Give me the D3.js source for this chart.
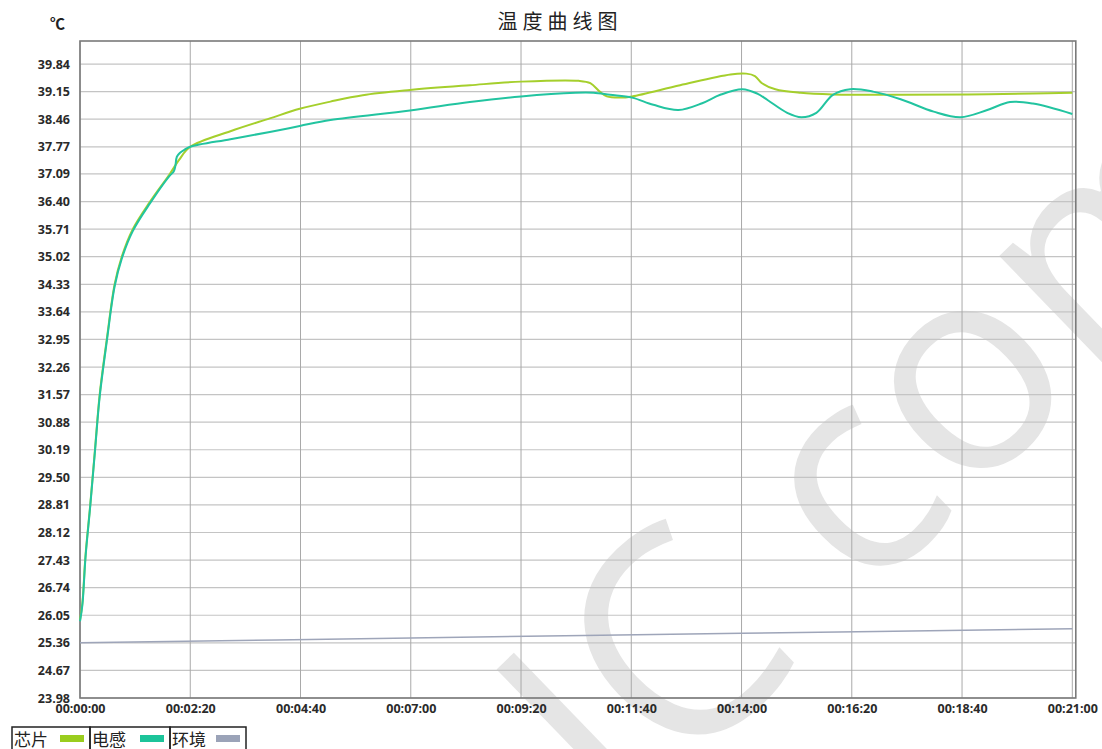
<!DOCTYPE html>
<html><head><meta charset="utf-8">
<script src="https://cdn.jsdelivr.net/npm/d3@7/dist/d3.min.js"></script>
<style>
html,body{margin:0;padding:0;background:#fff;}
svg{display:block;}
</style></head>
<body>
<svg id="chart" width="1102" height="749"></svg>
<script>
// ---- data ----
const yTickLabels = ["23.98","24.67","25.36","26.05","26.74","27.43","28.12","28.81","29.50","30.19","30.88","31.57","32.26","32.95","33.64","34.33","35.02","35.71","36.40","37.09","37.77","38.46","39.15","39.84"];
const xTickSeconds = [0,140,280,420,560,700,840,980,1120,1260];
const seriesNames = ["芯片","电感","环境"];
const seriesColors = ["#a5cf2c","#22c4a0","#9ea5b9"];
const legendColors = ["#9acd1e","#1cc49a","#9ba3b8"];

const chipT = [0,3,7,13,19,25,34,44,53,67,89,114,126,140,191,241,279,318,359,419,495,560,633,648,660,669,686,701,762,826,846,857,866,883,915,956,1042,1127,1210,1260];
const chipV = [25.93,26.35,27.55,28.81,30.19,31.57,32.95,34.33,35.02,35.71,36.40,37.09,37.45,37.77,38.16,38.48,38.72,38.90,39.06,39.19,39.31,39.40,39.42,39.36,39.15,39.03,39.00,39.03,39.31,39.58,39.60,39.54,39.36,39.21,39.12,39.08,39.07,39.08,39.10,39.12];

const inductT = [0,3,7,13,19,25,34,44,53,67,89,114,119,121,123,127,133,140,191,241,279,318,419,495,560,629,652,673,701,728,760,790,813,841,860,873,898,916,935,956,978,1007,1042,1084,1118,1152,1181,1210,1260];
const inductV = [25.90,26.30,27.50,28.78,30.15,31.52,32.90,34.28,34.97,35.66,36.36,37.05,37.15,37.28,37.52,37.62,37.70,37.77,37.96,38.14,38.29,38.44,38.68,38.89,39.03,39.12,39.12,39.07,39.00,38.82,38.69,38.86,39.07,39.21,39.10,38.94,38.62,38.51,38.62,39.07,39.21,39.15,38.96,38.65,38.51,38.69,38.89,38.85,38.59];

const ambientT = [0,420,840,1260];
const ambientV = [25.36,25.48,25.60,25.71];

// ---- layout ----
const svg = d3.select("#chart");
const L = 80, R = 1072.3, T = 41, B = 698;
const x = d3.scaleLinear().domain([0,1260]).range([L,R]);
const y = d3.scaleLinear().domain([23.98, 23.98 + (B-T)*0.6896/27.565]).range([B,T]);

function fmt(s){const h=Math.floor(s/3600),m=Math.floor(s%3600/60),ss=s%60;return [h,m,ss].map(v=>String(v).padStart(2,"0")).join(":");}

// watermark (behind)
const wm = svg.append("g").attr("opacity",0.55);
wm.append("text")
  .attr("transform","translate(620,838) rotate(-44)")
  .attr("font-family","Open Sans").attr("font-size",290).attr("font-weight",400)
  .attr("fill","#d0d0d0").text("IC com");

// grid
const yVals = yTickLabels.map(Number);
svg.append("g").selectAll("line").data(yVals).join("line")
  .attr("x1",L).attr("x2",R+3).attr("y1",d=>y(d)).attr("y2",d=>y(d))
  .attr("stroke","#c4c4c4").attr("stroke-width",1.2);
svg.append("g").selectAll("line").data(xTickSeconds).join("line")
  .attr("x1",d=>x(d)).attr("x2",d=>x(d)).attr("y1",T).attr("y2",B)
  .attr("stroke","#a9a9a9").attr("stroke-width",1);

// frame
svg.append("rect").attr("x",L).attr("y",T).attr("width",R+3.5-L).attr("height",B-T)
  .attr("fill","none").attr("stroke","#7a7a7a").attr("stroke-width",1.6);

// axes labels via d3 axes
const yAxis = d3.axisLeft(y).tickValues(yVals).tickFormat((d,i)=>yTickLabels[i]).tickSize(0).tickPadding(10);
const gy = svg.append("g").attr("transform",`translate(${L},0)`).call(yAxis);
gy.select(".domain").remove();
gy.selectAll("text").attr("font-family","Open Sans").attr("font-weight",700).attr("font-size",12.5).attr("fill","#2a2a2a");

const xAxis = d3.axisBottom(x).tickValues(xTickSeconds).tickFormat(fmt).tickSize(0).tickPadding(6);
const gx = svg.append("g").attr("transform",`translate(0,${B})`).call(xAxis);
gx.select(".domain").remove();
gx.selectAll("text").attr("font-family","Open Sans").attr("font-weight",700).attr("font-size",12.5).attr("fill","#2a2a2a");

// lines
const line = d3.line().x(d=>x(d[0])).y(d=>y(d[1])).curve(d3.curveCatmullRom.alpha(0.5));
const series = [
  d3.zip(chipT,chipV),
  d3.zip(inductT,inductV),
  d3.zip(ambientT,ambientV)
];
[2,0,1].forEach(i=>{
  svg.append("path").datum(series[i]).attr("d",line).attr("fill","none")
    .attr("stroke",seriesColors[i]).attr("stroke-width",i===2?1.5:2);
});

// title & unit
svg.append("text").attr("x",560).attr("y",29).attr("text-anchor","middle")
  .attr("font-family","Noto Sans CJK SC").attr("font-size",20).attr("letter-spacing",5).attr("fill","#222").text("温度曲线图");
svg.append("text").attr("x",50).attr("y",29)
  .attr("font-family","Noto Sans CJK SC").attr("font-weight",700).attr("font-size",15).attr("fill","#222").text("℃");

// legend
const lg = svg.append("g");
const cellX = [12,90,170], cellW = [78,80,76];
seriesNames.forEach((n,i)=>{
  lg.append("rect").attr("x",cellX[i]).attr("y",727).attr("width",cellW[i]).attr("height",26)
    .attr("fill","none").attr("stroke","#222").attr("stroke-width",1.5);
  lg.append("text").attr("x",cellX[i]+2).attr("y",746).attr("font-family","Noto Sans CJK SC")
    .attr("font-size",17).attr("fill","#222").text(n);
  lg.append("rect").attr("x",cellX[i]+cellW[i]-30).attr("y",735).attr("width",24).attr("height",7)
    .attr("fill",legendColors[i]);
});
</script>
</body></html>
